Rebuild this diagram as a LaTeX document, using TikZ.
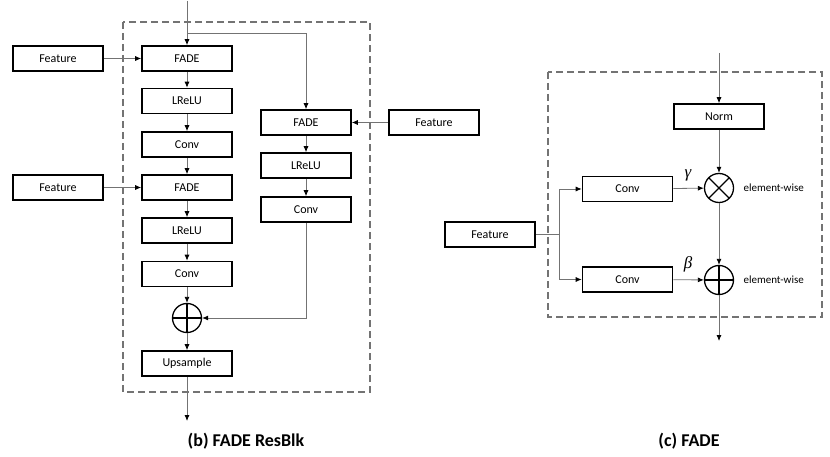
\documentclass[tikz,border=0pt]{standalone}
\usepackage{fontspec}
\setmainfont{Carlito}
\newfontfamily\greekfont{Liberation Serif}
\usetikzlibrary{arrows.meta}
\begin{document}
\begin{tikzpicture}[x=1pt,y=-1pt,
  blk/.style={draw=black,line width=1.6pt,minimum width=90pt,minimum height=25pt,inner sep=0pt,font=\fontsize{12}{14}\selectfont},
  conn/.style={draw=black!55,line width=0.8pt},
  arr/.style={conn,-{Latex[length=6pt,width=5pt,color=black]}},
  dashbox/.style={draw=black!55,line width=1.5pt,dash pattern=on 7pt off 4pt},
  opcircle/.style={circle,draw=black,line width=1.3pt,minimum size=29pt,inner sep=0pt},
  oplus/.style={opcircle,path picture={\draw[line width=1.3pt] (path picture bounding box.north)--(path picture bounding box.south) (path picture bounding box.west)--(path picture bounding box.east);}},
  otimes/.style={opcircle,path picture={\draw[line width=1.3pt] (path picture bounding box.north west)--(path picture bounding box.south east) (path picture bounding box.south west)--(path picture bounding box.north east);}},
  lbl/.style={font=\fontsize{11}{13}\selectfont},
  greek/.style={font=\fontsize{17}{19}\selectfont\greekfont\itshape},
  captext/.style={font=\fontsize{18}{21}\selectfont\bfseries}
]
\useasboundingbox (0,0) rectangle (830,457);
% dashed frames
\draw[dashbox] (123,22) rectangle (370,392);
\draw[dashbox] (548,72) rectangle (822,317);
% left diagram
\node[blk] (fade1) at (187,58.5) {FADE};
\node[blk] (lrelu1) at (187,101) {LReLU};
\node[blk] (conv1) at (187,144.5) {Conv};
\node[blk] (fade1b) at (187,187.5) {FADE};
\node[blk] (lrelu2) at (187,230.5) {LReLU};
\node[blk] (conv2) at (187,274) {Conv};
\node[oplus] (plus1) at (187,318) {};
\node[blk] (ups) at (187,363.5) {Upsample};
\node[blk] (feat1) at (58,58.5) {Feature};
\node[blk] (feat2) at (58,187.5) {Feature};
\node[blk] (fade2) at (306,122.5) {FADE};
\node[blk] (lrelu3) at (306,165.5) {LReLU};
\node[blk] (conv3) at (306,209.5) {Conv};
\node[blk] (featR) at (434,122.5) {Feature};
\coordinate (in1) at (187,1);
\coordinate (br1) at (187,33);
\coordinate (out1) at (187,421);
\draw[arr] (in1) -- (fade1);
\draw[arr] (br1) -| (fade2);
\draw[arr] (feat1) -- (fade1);
\draw[arr] (feat2) -- (fade1b);
\draw[arr] (featR) -- (fade2);
\draw[arr] (fade1) -- (lrelu1);
\draw[arr] (lrelu1) -- (conv1);
\draw[arr] (conv1) -- (fade1b);
\draw[arr] (fade1b) -- (lrelu2);
\draw[arr] (lrelu2) -- (conv2);
\draw[arr] (conv2) -- (plus1);
\draw[arr] (plus1) -- (ups);
\draw[arr] (ups) -- (out1);
\draw[arr] (fade2) -- (lrelu3);
\draw[arr] (lrelu3) -- (conv3);
\draw[arr] (conv3) |- (plus1);
% right diagram
\node[blk] (norm) at (719,116.5) {Norm};
\node[otimes] (mul) at (719,188) {};
\node[oplus] (add) at (719,280) {};
\node[blk] (convA) at (627.5,189) {Conv};
\node[blk] (convB) at (627.5,279.5) {Conv};
\node[blk] (feat3) at (490,234.5) {Feature};
\coordinate (in2) at (719,53);
\coordinate (out2) at (719,341);
\coordinate (br2) at (559,234.5);
\draw[arr] (in2) -- (norm);
\draw[arr] (norm) -- (mul);
\draw[arr] (mul) -- (add);
\draw[arr] (add) -- (out2);
\draw[conn] (feat3) -- (br2);
\draw[arr] (br2) |- (convA);
\draw[arr] (br2) |- (convB);
\draw[arr] (convA) -- (mul);
\draw[arr] (convB) -- (add);
\node[greek] (gam) at (688,175) {γ};
\node[greek] (bet) at (688,264) {β};
\node[lbl,anchor=west] (ew1) at (740,188) {element-wise};
\node[lbl,anchor=west] (ew2) at (740,280) {element-wise};
% captions
\node[captext] (capb) at (246,441) {(b) FADE ResBlk};
\node[captext] (capc) at (689,441) {(c) FADE};
\end{tikzpicture}
\end{document}
